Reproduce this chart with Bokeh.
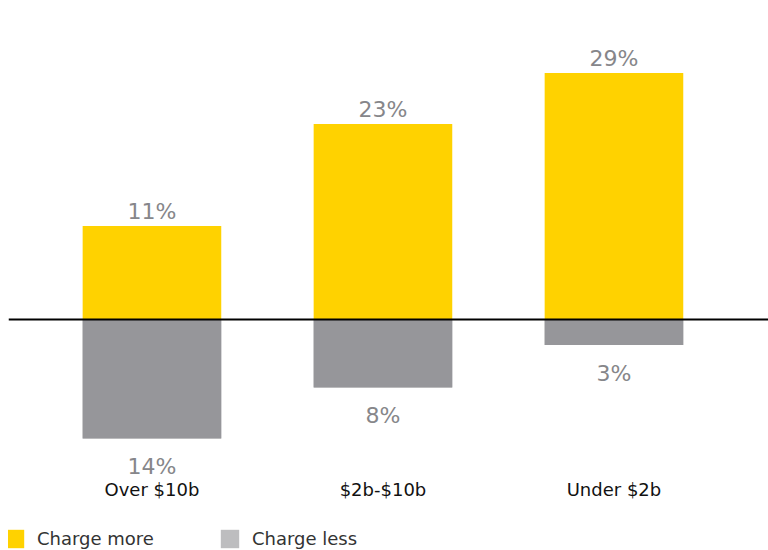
import numpy as np
from bokeh.plotting import figure
from bokeh.models import ColumnDataSource, Range1d, Span, Legend, LegendItem
from bokeh.core.properties import value
from bokeh.embed import file_html
from bokeh.resources import INLINE

# ---- data ----
categories = ["Over $10b", "$2b-$10b", "Under $2b"]
charge_more = [11, 23, 29]
charge_less = [14, 8, 3]
series_names = ["Charge more", "Charge less"]

YELLOW = "#FFD200"
GRAY = "#96969A"
GRAY_LEGEND = "#BDBDBF"
LABEL_GRAY = "#86868A"

W, H = 768, 550
LEFT = 8
px_per_unit = 8.5
baseline_px = 319  # from top of figure

x = np.arange(len(categories))
more = np.array(charge_more, dtype=float)
less = np.array(charge_less, dtype=float)

p = figure(width=W, height=H, output_backend="svg", toolbar_location=None,
           x_range=Range1d(-0.621, 2.669),
           y_range=Range1d(-(H - baseline_px) / px_per_unit, baseline_px / px_per_unit),
           min_border=0, min_border_left=LEFT)
p.axis.visible = False
p.grid.visible = False
p.outline_line_color = None
p.background_fill_color = "white"
p.border_fill_color = "white"

src = ColumnDataSource(dict(
    x=x, more=more, less=-less, zero=np.zeros_like(more),
    more_lbl=[f"{v:g}%" for v in charge_more],
    less_lbl=[f"{v:g}%" for v in charge_less],
    cat=categories,
    cat_y=np.full(len(categories), -(489 - baseline_px) / px_per_unit),
))

r1 = p.vbar(x="x", top="more", bottom="zero", width=0.6, source=src,
            fill_color=YELLOW, line_color=None)
# lighter swatch renderer for the legend (hidden under the bars)
r2 = p.vbar(x="x", top="zero", bottom="less", width=0.6, source=src,
            fill_color=GRAY_LEGEND, line_color=None)
p.vbar(x="x", top="zero", bottom="less", width=0.6, source=src,
       fill_color=GRAY, line_color=None)

p.add_layout(Span(location=0, dimension="width", line_color="black", line_width=2))

p.text(x="x", y="more", text="more_lbl", source=src, text_align="center",
       text_baseline="alphabetic", y_offset=-15,
       text_font=value("DejaVu Sans"), text_font_size="22px", text_color=LABEL_GRAY)
p.text(x="x", y="less", text="less_lbl", source=src, text_align="center",
       text_baseline="alphabetic", y_offset=28,
       text_font=value("DejaVu Sans"), text_font_size="22px", text_color=LABEL_GRAY)
p.text(x="x", y="cat_y", text="cat", source=src, text_align="center",
       text_baseline="alphabetic",
       text_font=value("DejaVu Sans"), text_font_size="18px", text_color="#111111")

legend = Legend(items=[LegendItem(label=series_names[0], renderers=[r1]),
                       LegendItem(label=series_names[1], renderers=[r2])],
                orientation="horizontal", location=(-5, 0),
                glyph_width=23, glyph_height=23, label_height=23,
                label_standoff=11, spacing=64, padding=0, margin=0,
                border_line_color=None, background_fill_alpha=0,
                label_text_font="DejaVu Sans", label_text_font_size="18px",
                label_text_color="#333333", label_text_baseline="middle")
p.add_layout(legend, "center")

open("out.html", "w").write(file_html(p, INLINE))
